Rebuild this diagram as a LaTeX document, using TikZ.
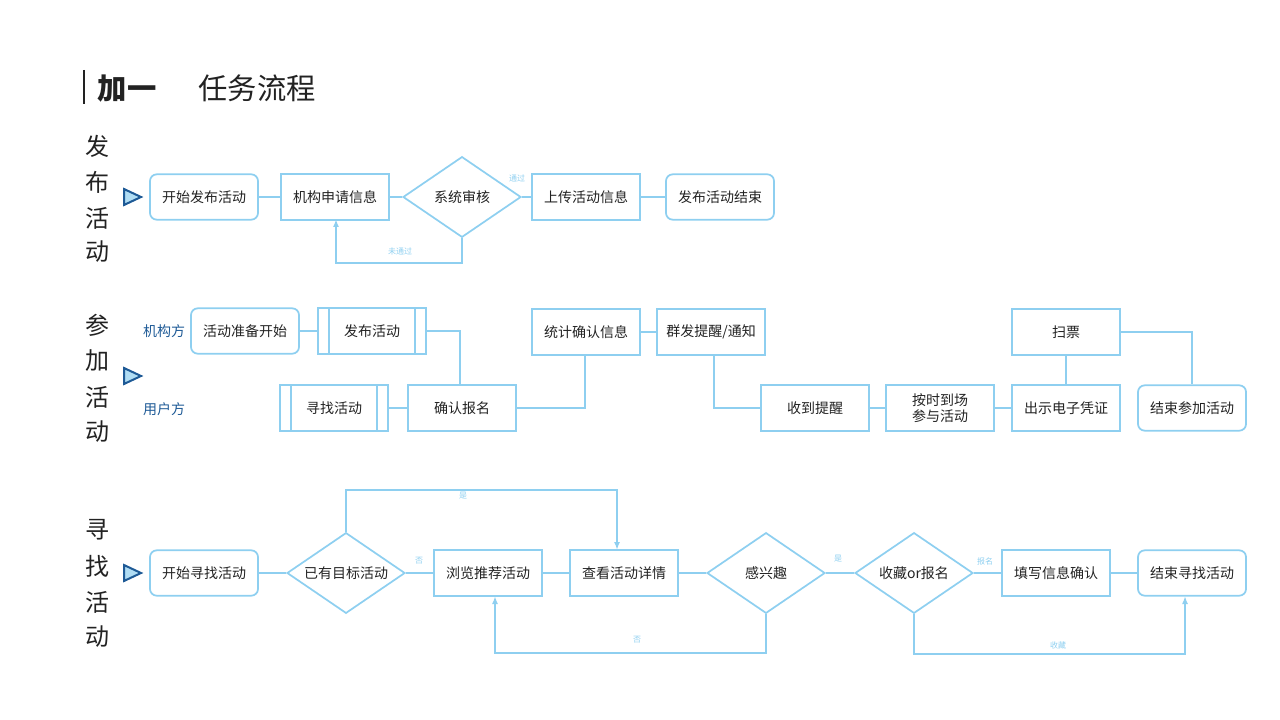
\documentclass[tikz,border=0pt]{standalone}
\usepackage{fontspec}
\setmainfont{Noto Sans CJK SC}
\usetikzlibrary{shapes.geometric,arrows.meta}
\definecolor{lb}{HTML}{8ECFF0}
\definecolor{db}{HTML}{1E5A96}
\definecolor{tx}{HTML}{222222}
\begin{document}
\begin{tikzpicture}[x=0.75pt,y=-0.75pt,
  line width=1.3pt,
  box/.style={draw=lb,minimum width=81pt,minimum height=34pt,inner sep=1pt,font=\fontsize{10.5}{12}\selectfont,text=tx,align=center},
  rbox/.style={box,rounded corners=5pt},
  dia/.style={draw=lb,diamond,aspect=1.46,minimum width=88.5pt,minimum height=60.5pt,inner sep=0pt,font=\fontsize{10.5}{12}\selectfont,text=tx},
  ln/.style={draw=lb,line width=1.3pt},
  ar/.style={ln,-{Latex[length=6pt,width=4.5pt]}},
  sm/.style={font=\fontsize{6}{7}\selectfont,text=lb},
  side/.style={font=\fontsize{18}{20}\selectfont,text=tx},
  tri/.style={draw=db,fill=lb!70,line width=1.5pt}]
\useasboundingbox (0,0) rectangle (1280,720);
% title
\draw[tx,line width=1.5pt] (84,70) -- (84,104);
\node[font=\fontsize{22}{24}\selectfont\bfseries,text=tx] (t1) at (127,89) {加一};
\node[font=\fontsize{22}{24}\selectfont,text=tx] (t2) at (257,88) {任务流程};
% side labels
\foreach \c/\y in {发/146,布/182,活/218,动/252,参/325,加/361,活/397,动/432,寻/530,找/566,活/602,动/637}
  \node[side] at (97,\y) {\c};
\foreach \y in {197,376,573}
  \draw[tri] (124,\y-8) -- (141,\y) -- (124,\y+8) -- cycle;
% row 1
\node[rbox] (a1) at (204,197) {开始发布活动};
\node[box] (a2) at (335,197) {机构申请信息};
\node[dia] (a3) at (462,197) {系统审核};
\node[box] (a4) at (586,197) {上传活动信息};
\node[rbox] (a5) at (720,197) {发布活动结束};
\draw[ln] (a1) -- (a2); \draw[ln] (a2) -- (a3); \draw[ln] (a3) -- (a4); \draw[ln] (a4) -- (a5);
\draw[ar] (a3.south) -- (462,263) -- (336,263) -- (336,219);
\node[sm] (l1) at (400,251) {未通过};
\node[sm] (l2) at (517,178) {通过};
% row 2
\node[text=db,font=\fontsize{10.5}{12}\selectfont] (o1) at (164,331) {机构方};
\node[text=db,font=\fontsize{10.5}{12}\selectfont] (o2) at (164,409) {用户方};
\node[rbox] (b1) at (245,331) {活动准备开始};
\node[box] (b2) at (372,331) {发布活动};
\draw[ln] (329,309) -- (329,354) (415,309) -- (415,354);
\node[box] (b3) at (586,332) {统计确认信息};
\node[box] (b4) at (711,332) {群发提醒/通知};
\node[box] (b5) at (1066,332) {扫票};
\node[box] (c1) at (334,408) {寻找活动};
\draw[ln] (291,386) -- (291,431) (377,386) -- (377,431);
\node[box] (c2) at (462,408) {确认报名};
\node[box] (c3) at (815,408) {收到提醒};
\node[box] (c4) at (940,408) {按时到场\\参与活动};
\node[box] (c5) at (1066,408) {出示电子凭证};
\node[rbox] (c6) at (1192,408) {结束参加活动};
\draw[ln] (b1) -- (b2);
\draw[ln] (b2.east) -- (460,331) -- (460,386);
\draw[ln] (c1) -- (c2);
\draw[ln] (c2.east) -- (585,408) -- (585,355);
\draw[ln] (b3) -- (b4);
\draw[ln] (714,355) -- (714,408) -- (c3.west);
\draw[ln] (c3) -- (c4); \draw[ln] (c4) -- (c5);
\draw[ln] (c5) -- (b5);
\draw[ln] (b5.east) -- (1192,332) -- (c6.north);
% row 3
\node[rbox] (d1) at (204,573) {开始寻找活动};
\node[dia] (d2) at (346,573) {已有目标活动};
\node[box] (d3) at (488,573) {浏览推荐活动};
\node[box] (d4) at (624,573) {查看活动详情};
\node[dia] (d5) at (766,573) {感兴趣};
\node[dia] (d6) at (914,573) {收藏or报名};
\node[box] (d7) at (1056,573) {填写信息确认};
\node[rbox] (d8) at (1192,573) {结束寻找活动};
\draw[ln] (d1) -- (d2); \draw[ln] (d2) -- (d3); \draw[ln] (d3) -- (d4);
\draw[ln] (d4) -- (d5); \draw[ln] (d5) -- (d6); \draw[ln] (d6) -- (d7); \draw[ln] (d7) -- (d8);
\node[sm] (m1) at (419,561) {否};
\node[sm] (m2) at (838,559) {是};
\node[sm] (m3) at (985,561) {报名};
\draw[ar] (d2.north) -- (346,490) -- (617,490) -- (617,550);
\node[sm] (m4) at (463,496) {是};
\draw[ar] (d5.south) -- (766,653) -- (495,653) -- (495,596);
\node[sm] (m5) at (637,640) {否};
\draw[ar] (d6.south) -- (914,654) -- (1185,654) -- (1185,596);
\node[sm] (m6) at (1058,645) {收藏};
\end{tikzpicture}
\end{document}
